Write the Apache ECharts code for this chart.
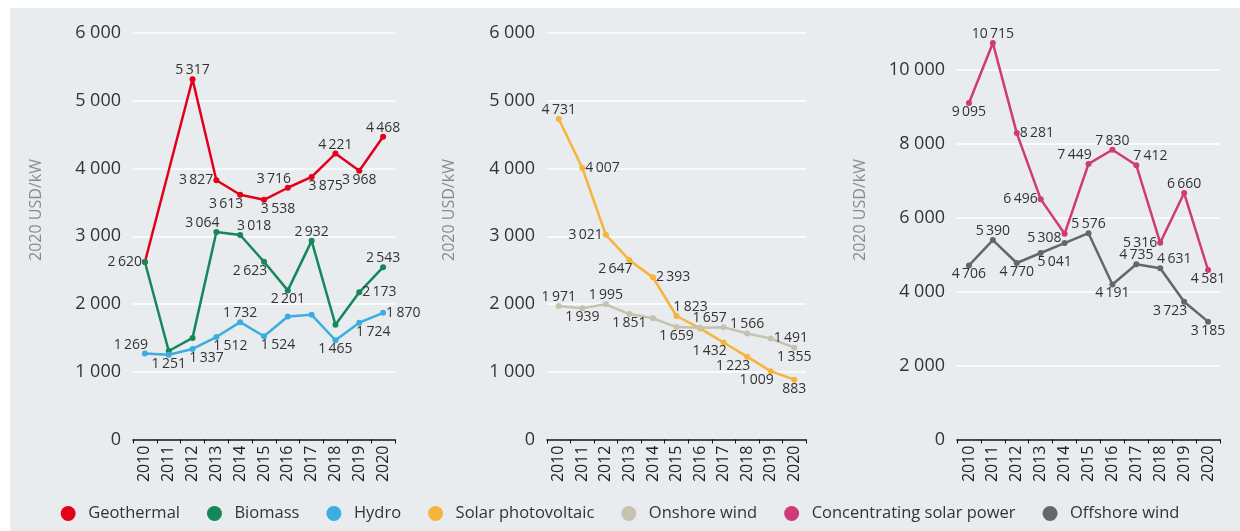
<!DOCTYPE html>
<html><head><meta charset="utf-8">
<script src="https://cdn.jsdelivr.net/npm/echarts@6/dist/echarts.min.js"></script>
<style>html,body{margin:0;padding:0;background:#fff}#c{width:1240px;height:531px}</style>
</head><body><div id="c"></div>
<script>
const years = ['2010','2011','2012','2013','2014','2015','2016','2017','2018','2019','2020'];
const yTitle = '2020 USD/kW';

const geothermal = [2620, null, 5317, 3827, 3613, 3538, 3716, 3875, 4221, 3968, 4468];
const biomass    = [2620, 1306, 1500, 3064, 3018, 2623, 2201, 2932, 1694, 2173, 2543];
const hydro      = [1269, 1251, 1337, 1512, 1732, 1524, 1816, 1840, 1465, 1724, 1870];
const solarPV    = [4731, 4007, 3021, 2647, 2393, 1823, 1640, 1432, 1223, 1009, 883];
const onshore    = [1971, 1939, 1995, 1851, 1790, 1659, 1650, 1657, 1566, 1491, 1355];
const csp        = [9095, 10715, 8281, 6496, 5560, 7449, 7830, 7412, 5316, 6660, 4581];
const offshore   = [4706, 5390, 4770, 5041, 5308, 5576, 4191, 4735, 4631, 3723, 3185];

// label placement per point (style, kept separate from data)
const posGeo  = [null,null,'top','left','bl','br','tl','br','top','bottom','top'];
const posBio  = ['left',null,null,'tl','tr','bl','bottom','top',null,'right','top'];
const posHyd  = ['tl','bottom','br','br','top','br',null,null,'bottom','br','right'];
const posPV   = ['top','right','left','bl','right','tr',null,'bl','bl','bl','bottom'];
const posOn   = ['top','bottom','top','bottom',null,'bottom',null,'tl','top','right','bottom'];
const posCSP  = ['bottom','top','right','left',null,'tl','top','tr','left','top','bottom'];
const posOff  = ['bottom','top','bottom','br','lt','top','bottom','top','tr','bl','bottom'];

const fmt = v => String(v).replace(/\B(?=(\d{3})+(?!\d))/g, '\u2009');
const fmtAxis = v => String(v).replace(/\B(?=(\d{3})+(?!\d))/g, ' ');
const FONT = 'Open Sans';

function mkData(vals, pos){
  return vals.map((v,i)=>{
    const p = pos[i];
    if (v == null) return null;
    if (!p) return {value:v, label:{show:false}};
    let position = p, offset = [0,0];
    if (p==='tl'){position='top';offset=[-14,0];}
    if (p==='tr'){position='top';offset=[14,0];}
    if (p==='bl'){position='bottom';offset=[-14,0];}
    if (p==='br'){position='bottom';offset=[14,0];}
    if (p==='lt'){position='left';offset=[0,-5];}
    return {value:v, label:{show:true, position, offset}};
  });
}
function mkSeries(name, vals, pos, color, idx){
  return {
    name, type:'line', xAxisIndex:idx, yAxisIndex:idx,
    data: mkData(vals,pos), connectNulls:true, clip:false,
    symbol:'circle', symbolSize:6, showSymbol:true,
    itemStyle:{color}, lineStyle:{color, width:2.5},
    label:{show:true, formatter:p=>fmt(p.value), fontSize:14, lineHeight:12, color:'#333', fontFamily:FONT, distance:0},
    emphasis:{disabled:true}, animation:false
  };
}
const grids = [
  {left:133, width:262, top:33, bottom:91.5},
  {left:547, width:259, top:33, bottom:91.5},
  {left:957, width:263, top:69.5, bottom:91.5}
];
const xAxes = grids.map((g,i)=>({
  type:'category', gridIndex:i, data:years, boundaryGap:true,
  axisLine:{lineStyle:{color:'#111', width:1.5}},
  axisTick:{show:true, length:4, lineStyle:{color:'#111'}},
  axisLabel:{rotate:90, fontSize:16, color:'#222', fontFamily:FONT, margin:6, interval:0}
}));
const yAxes = [
  {max:6000, interval:1000},
  {max:6000, interval:1000},
  {max:10000, interval:2000}
].map((a,i)=>({
  type:'value', gridIndex:i, min:0, max:a.max, interval:a.interval,
  axisLine:{show:false}, axisTick:{show:false},
  splitLine:{show:true, lineStyle:{color:'#ffffff', width:1.5}},
  axisLabel:{fontSize:18, color:'#333', fontFamily:FONT, margin:12, formatter:fmtAxis}
}));
const series = [
  mkSeries('Geothermal', geothermal, posGeo, '#e2001a', 0),
  mkSeries('Biomass', biomass, posBio, '#14875b', 0),
  mkSeries('Hydro', hydro, posHyd, '#3cade0', 0),
  mkSeries('Solar photovoltaic', solarPV, posPV, '#f6b43a', 1),
  mkSeries('Onshore wind', onshore, posOn, '#c5c3ae', 1),
  mkSeries('Concentrating solar power', csp, posCSP, '#cf3a77', 2),
  mkSeries('Offshore wind', offshore, posOff, '#666666', 2)
];
const titleX = [36, 449, 860];
const chart = echarts.init(document.getElementById('c'));
chart.setOption({
  animation:false,
  backgroundColor:'#ffffff',
  graphic:[
    {type:'rect', z:-10, shape:{x:10, y:8, width:1230, height:523}, style:{fill:'#e9ecef'}},
    ...titleX.map(x=>({type:'text', x, y:210, rotation:Math.PI/2,
      style:{text:yTitle, fill:'#8a8a8a', fontSize:16, fontFamily:FONT, align:'center', verticalAlign:'middle'}}))
  ],
  legend:{
    top:500, left:'center', icon:'circle', itemWidth:30, itemHeight:15, itemGap:27,
    textStyle:{fontSize:16.5, color:'#333', fontFamily:FONT},
    data:series.map(s=>s.name)
  },
  grid:grids, xAxis:xAxes, yAxis:yAxes, series
});
</script></body></html>
